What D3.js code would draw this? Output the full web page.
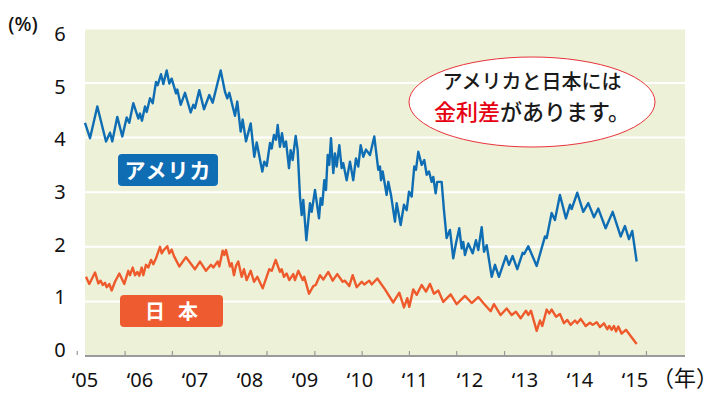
<!DOCTYPE html>
<html><head><meta charset="utf-8">
<script src="https://cdn.jsdelivr.net/npm/d3@7"></script>
<style>
html,body{margin:0;padding:0;background:#fff;}
svg{display:block;}
text{font-family:"Noto Sans CJK JP","Noto Sans",sans-serif;}
</style></head>
<body><svg id="chart" width="720" height="402"></svg>
<script>
// ---- data ----
const usRates = [[2005.000,4.27],[2005.091,3.99],[2005.224,4.57],[2005.382,3.93],[2005.455,4.09],[2005.496,3.93],[2005.587,4.38],[2005.678,4.02],[2005.758,4.37],[2005.805,4.27],[2005.878,4.63],[2005.969,4.35],[2006.000,4.44],[2006.036,4.31],[2006.091,4.57],[2006.122,4.47],[2006.182,4.72],[2006.231,4.63],[2006.291,5.02],[2006.322,4.96],[2006.382,5.16],[2006.424,4.98],[2006.485,5.23],[2006.533,4.99],[2006.576,5.08],[2006.655,4.81],[2006.678,4.88],[2006.740,4.60],[2006.818,4.82],[2006.922,4.46],[2006.969,4.60],[2007.000,4.54],[2007.078,4.87],[2007.164,4.52],[2007.260,4.78],[2007.322,4.64],[2007.467,5.23],[2007.545,4.84],[2007.587,4.72],[2007.624,4.82],[2007.727,4.40],[2007.769,4.66],[2007.831,4.11],[2007.867,4.33],[2007.927,3.93],[2008.013,4.26],[2008.078,3.65],[2008.122,3.91],[2008.224,3.38],[2008.260,3.56],[2008.304,3.48],[2008.364,3.90],[2008.395,3.80],[2008.436,4.05],[2008.473,3.96],[2008.504,4.23],[2008.545,3.83],[2008.582,4.08],[2008.618,3.83],[2008.655,3.93],[2008.709,3.44],[2008.740,3.77],[2008.776,3.59],[2008.831,4.03],[2008.867,3.77],[2008.909,2.92],[2008.940,2.58],[2008.969,2.86],[2009.025,2.12],[2009.091,2.80],[2009.122,2.64],[2009.182,3.04],[2009.255,2.52],[2009.285,2.89],[2009.315,2.77],[2009.351,3.22],[2009.382,3.04],[2009.413,3.68],[2009.442,3.50],[2009.473,3.99],[2009.515,3.35],[2009.545,3.71],[2009.576,3.47],[2009.624,3.86],[2009.667,3.44],[2009.696,3.53],[2009.758,3.22],[2009.818,3.56],[2009.878,3.22],[2009.927,3.62],[2009.969,3.47],[2010.013,3.86],[2010.060,3.65],[2010.109,3.78],[2010.182,3.68],[2010.260,4.02],[2010.333,3.41],[2010.364,3.47],[2010.382,3.22],[2010.413,3.38],[2010.485,2.95],[2010.515,3.19],[2010.564,2.95],[2010.636,2.46],[2010.667,2.80],[2010.740,2.40],[2010.800,2.77],[2010.849,2.67],[2010.891,3.01],[2010.940,2.92],[2010.987,3.47],[2011.018,3.41],[2011.060,3.74],[2011.122,3.50],[2011.169,3.59],[2011.213,3.32],[2011.255,3.38],[2011.304,3.19],[2011.333,3.28],[2011.376,2.98],[2011.405,3.19],[2011.485,3.19],[2011.527,2.67],[2011.576,2.16],[2011.636,2.31],[2011.696,1.79],[2011.745,2.06],[2011.805,2.34],[2011.849,1.97],[2011.878,2.09],[2011.909,1.85],[2011.969,2.06],[2012.049,1.88],[2012.109,2.12],[2012.151,1.94],[2012.213,2.36],[2012.255,1.91],[2012.304,2.03],[2012.395,1.45],[2012.455,1.67],[2012.527,1.45],[2012.655,1.83],[2012.709,1.67],[2012.776,1.83],[2012.860,1.59],[2012.958,1.89],[2012.987,1.87],[2013.060,2.01],[2013.213,1.65],[2013.364,2.19],[2013.395,2.16],[2013.485,2.62],[2013.545,2.49],[2013.636,2.95],[2013.745,2.52],[2013.818,2.77],[2013.849,2.69],[2013.951,2.99],[2014.060,2.64],[2014.151,2.80],[2014.255,2.54],[2014.333,2.70],[2014.467,2.34],[2014.595,2.64],[2014.740,2.19],[2014.818,2.38],[2014.891,2.14],[2014.951,2.29],[2015.031,1.73]];

const jpRates = [[2005.018,1.45],[2005.078,1.32],[2005.182,1.53],[2005.242,1.33],[2005.285,1.38],[2005.322,1.30],[2005.364,1.34],[2005.395,1.26],[2005.442,1.32],[2005.485,1.20],[2005.545,1.36],[2005.624,1.51],[2005.715,1.32],[2005.787,1.56],[2005.818,1.48],[2005.867,1.62],[2005.909,1.48],[2005.951,1.54],[2005.987,1.47],[2006.031,1.62],[2006.060,1.48],[2006.109,1.67],[2006.151,1.62],[2006.200,1.76],[2006.242,1.68],[2006.291,1.79],[2006.364,2.00],[2006.395,1.88],[2006.424,1.93],[2006.496,2.01],[2006.533,1.88],[2006.576,1.95],[2006.618,1.83],[2006.715,1.64],[2006.836,1.81],[2007.000,1.59],[2007.091,1.73],[2007.200,1.56],[2007.291,1.67],[2007.333,1.62],[2007.413,1.73],[2007.442,1.64],[2007.504,1.93],[2007.533,1.85],[2007.564,1.94],[2007.605,1.77],[2007.636,1.64],[2007.667,1.70],[2007.709,1.48],[2007.745,1.65],[2007.787,1.73],[2007.849,1.45],[2007.891,1.59],[2007.940,1.39],[2008.013,1.56],[2008.073,1.36],[2008.133,1.45],[2008.231,1.24],[2008.351,1.59],[2008.395,1.56],[2008.467,1.76],[2008.545,1.54],[2008.576,1.59],[2008.618,1.45],[2008.667,1.51],[2008.715,1.39],[2008.787,1.50],[2008.818,1.39],[2008.878,1.56],[2008.958,1.39],[2008.987,1.45],[2009.073,1.14],[2009.151,1.28],[2009.195,1.30],[2009.273,1.48],[2009.333,1.40],[2009.424,1.54],[2009.504,1.38],[2009.587,1.50],[2009.685,1.36],[2009.727,1.38],[2009.805,1.28],[2009.867,1.48],[2009.940,1.26],[2010.031,1.36],[2010.078,1.31],[2010.169,1.38],[2010.213,1.31],[2010.315,1.42],[2010.455,1.22],[2010.605,0.98],[2010.715,1.16],[2010.800,0.89],[2010.860,1.06],[2010.896,0.90],[2010.969,1.22],[2011.031,1.12],[2011.122,1.30],[2011.200,1.18],[2011.273,1.32],[2011.345,1.14],[2011.424,1.20],[2011.515,0.99],[2011.649,1.13],[2011.758,0.95],[2011.909,1.10],[2012.031,0.97],[2012.151,1.08],[2012.242,0.97],[2012.376,0.82],[2012.436,0.95],[2012.558,0.75],[2012.667,0.87],[2012.758,0.75],[2012.836,0.81],[2012.922,0.69],[2013.018,0.83],[2013.060,0.75],[2013.109,0.83],[2013.213,0.46],[2013.273,0.65],[2013.315,0.55],[2013.395,0.85],[2013.442,0.78],[2013.485,0.85],[2013.564,0.72],[2013.636,0.77],[2013.709,0.60],[2013.769,0.66],[2013.831,0.57],[2013.909,0.65],[2013.951,0.60],[2014.013,0.68],[2014.104,0.55],[2014.182,0.61],[2014.231,0.57],[2014.304,0.62],[2014.364,0.53],[2014.436,0.60],[2014.496,0.49],[2014.533,0.55],[2014.576,0.48],[2014.618,0.55],[2014.655,0.45],[2014.697,0.54],[2014.758,0.41],[2014.836,0.48],[2015.031,0.22]];

const yTicks = [0, 1, 2, 3, 4, 5, 6];
const xYears = [2005, 2006, 2007, 2008, 2009, 2010, 2011, 2012, 2013, 2014, 2015];
const xLabels = ["‘05","‘06","‘07","‘08","‘09","‘10","‘11","‘12","‘13","‘14","‘15"];
const tickMarks = [2004.85, 2005.72, 2006.58, 2007.44, 2008.30, 2009.17, 2010.03, 2010.89, 2011.75, 2012.62, 2013.48, 2014.34, 2015.20];
const seriesNames = ["アメリカ", "日本"];
const calloutLine1 = "アメリカと日本には";
const calloutRed = "金利差";
const calloutRest = "があります。";

// ---- scales ----
const svg = d3.select("#chart");
const x = d3.scaleLinear().domain([2005, 2015.91]).range([85, 685]);
const y = d3.scaleLinear().domain([0, 6]).range([356, 28.4]);
const yLab = d3.scaleLinear().domain([0, 6]).range([357, 41]);

const BLUE = "#0f6db4", ORANGE = "#ee5a2b", BG = "#ecf1d8";

// plot background
svg.append("rect")
  .attr("x", x(2005)).attr("y", y(6))
  .attr("width", x(2015.91) - x(2005)).attr("height", y(0) - y(6))
  .attr("fill", BG);

// gridlines
svg.append("g").selectAll("line").data(yTicks.filter(d => d > 0)).join("line")
  .attr("x1", x(2005)).attr("x2", x(2015.91))
  .attr("y1", d => y(d)).attr("y2", d => y(d))
  .attr("stroke", "#fff").attr("stroke-width", 2);

// y labels
svg.append("g").selectAll("text").data(yTicks).join("text")
  .attr("x", 60).attr("y", d => yLab(d))
  .attr("text-anchor", "middle")
  .attr("font-size", 20).attr("fill", "#111")
  .style("font-family", "'Noto Sans','Open Sans',sans-serif")
  .text(d => d);

svg.append("text").attr("x", 23).attr("y", 31).attr("text-anchor", "middle")
  .attr("font-size", 20).attr("font-weight", 500).attr("fill", "#111")
  .style("font-family", "'Noto Sans','Open Sans',sans-serif")
  .text("(%)");

// x axis line
svg.append("line")
  .attr("x1", x(2005)).attr("x2", x(2015.91))
  .attr("y1", y(0)).attr("y2", y(0))
  .attr("stroke", "#9a9a9a").attr("stroke-width", 2);

// tick marks
const xAxis = d3.axisBottom(x).tickValues(tickMarks).tickSize(-4).tickFormat("");
const gx = svg.append("g").attr("transform", `translate(0,${y(0) - 1})`).call(xAxis);
gx.select(".domain").remove();
gx.selectAll(".tick line").attr("stroke", "#999").attr("stroke-width", 1.2);

// x labels
svg.append("g").selectAll("text").data(xYears).join("text")
  .attr("x", d => x(d)).attr("y", 387)
  .attr("text-anchor", "middle")
  .attr("font-size", 20).attr("fill", "#111")
  .style("font-family", "'Noto Sans','Open Sans',sans-serif")
  .text((d, i) => xLabels[i]);

svg.append("text").attr("x", 685).attr("y", 386).attr("text-anchor", "middle")
  .attr("font-size", 22).attr("fill", "#111")
  .text("（年）");

// lines
const line = d3.line().x(d => x(d[0])).y(d => y(d[1]));
svg.append("path").datum(jpRates).attr("d", line)
  .attr("fill", "none").attr("stroke", ORANGE).attr("stroke-width", 2.4)
  .attr("stroke-linejoin", "round");
svg.append("path").datum(usRates).attr("d", line)
  .attr("fill", "none").attr("stroke", BLUE).attr("stroke-width", 2.4)
  .attr("stroke-linejoin", "round");

// series label boxes
svg.append("rect").attr("x", 118).attr("y", 154).attr("width", 100).attr("height", 32)
  .attr("rx", 4).attr("fill", BLUE);
svg.append("text").attr("x", 168).attr("y", 178).attr("text-anchor", "middle")
  .attr("font-size", 21).attr("font-weight", 700).attr("fill", "#fff")
  .attr("letter-spacing", 1)
  .text(seriesNames[0]);

svg.append("rect").attr("x", 120).attr("y", 295).attr("width", 103).attr("height", 32)
  .attr("rx", 4).attr("fill", "#ef5b30");
svg.append("text").attr("x", 178).attr("y", 319).attr("text-anchor", "middle")
  .attr("font-size", 20).attr("font-weight", 700).attr("fill", "#fff")
  .attr("letter-spacing", 13)
  .text(seriesNames[1]);

// callout
svg.append("ellipse").attr("cx", 532).attr("cy", 102).attr("rx", 123).attr("ry", 45)
  .attr("fill", "#fff").attr("stroke", "#e8333a").attr("stroke-width", 1);
svg.append("text").attr("x", 532).attr("y", 89).attr("text-anchor", "middle")
  .attr("font-size", 20).attr("font-weight", 500).attr("fill", "#1a1a1a")
  .text(calloutLine1);
const t2 = svg.append("text").attr("x", 532).attr("y", 120).attr("text-anchor", "middle")
  .attr("font-size", 22).attr("font-weight", 500).attr("fill", "#1a1a1a");
t2.append("tspan").attr("fill", "#e60012").text(calloutRed);
t2.append("tspan").text(calloutRest);
</script>
</body></html>
